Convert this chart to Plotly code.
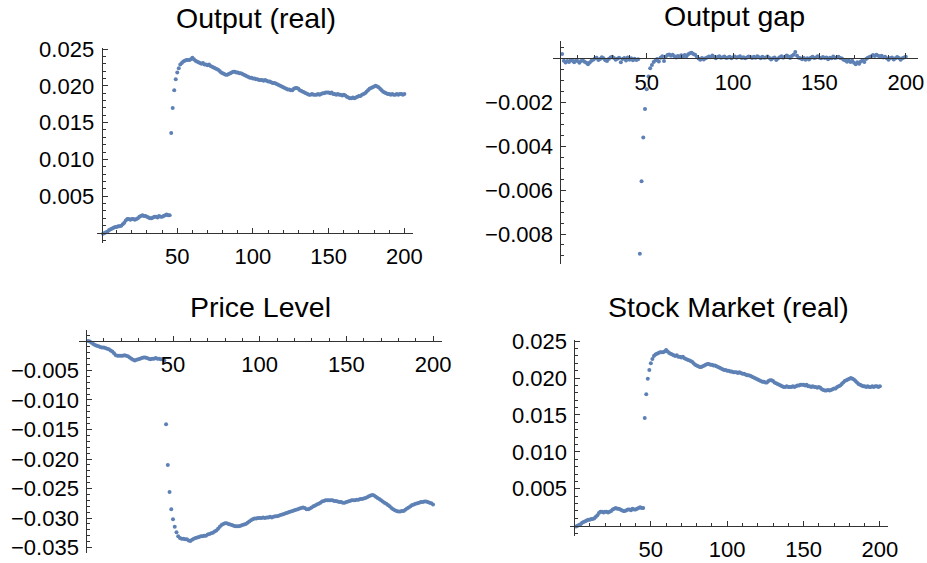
import plotly.graph_objects as go

W, H = 927, 563

time_index = list(range(1, 201))

output_real = [
    -0.0001, 0.0000, 0.0001, 0.0002, 0.0004, 0.0005, 0.0006, 0.0007, 0.0008, 0.0008,
    0.0009, 0.0009, 0.0010, 0.0012, 0.0014, 0.0017, 0.0019, 0.0019, 0.0018, 0.0019,
    0.0019, 0.0018, 0.0019, 0.0020, 0.0022, 0.0023, 0.0024, 0.0023, 0.0023, 0.0022,
    0.0021, 0.0020, 0.0020, 0.0021, 0.0022, 0.0022, 0.0021, 0.0023, 0.0022, 0.0022,
    0.0023, 0.0024, 0.0025, 0.0024, 0.0024, 0.0136, 0.0170, 0.0194, 0.0209, 0.0218,
    0.0224, 0.0229, 0.0231, 0.0233, 0.0234, 0.0235, 0.0235, 0.0235, 0.0236, 0.0238,
    0.0236, 0.0234, 0.0233, 0.0232, 0.0231, 0.0230, 0.0231, 0.0229, 0.0229, 0.0228,
    0.0229, 0.0227, 0.0226, 0.0225, 0.0224, 0.0223, 0.0222, 0.0220, 0.0218, 0.0217,
    0.0216, 0.0215, 0.0215, 0.0216, 0.0217, 0.0218, 0.0219, 0.0219, 0.0218, 0.0218,
    0.0217, 0.0217, 0.0216, 0.0215, 0.0214, 0.0213, 0.0212, 0.0211, 0.0211, 0.0210,
    0.0210, 0.0209, 0.0209, 0.0208, 0.0208, 0.0208, 0.0207, 0.0208, 0.0207, 0.0206,
    0.0206, 0.0205, 0.0204, 0.0204, 0.0203, 0.0202, 0.0201, 0.0200, 0.0199, 0.0198,
    0.0197, 0.0196, 0.0195, 0.0195, 0.0194, 0.0194, 0.0196, 0.0197, 0.0197, 0.0196,
    0.0194, 0.0193, 0.0192, 0.0191, 0.0190, 0.0189, 0.0188, 0.0188, 0.0189, 0.0188,
    0.0188, 0.0188, 0.0189, 0.0188, 0.0189, 0.0190, 0.0190, 0.0191, 0.0191, 0.0191,
    0.0190, 0.0191, 0.0189, 0.0189, 0.0188, 0.0189, 0.0188, 0.0188, 0.0187, 0.0188,
    0.0187, 0.0185, 0.0184, 0.0183, 0.0183, 0.0184, 0.0183, 0.0184, 0.0185, 0.0186,
    0.0186, 0.0188, 0.0189, 0.0190, 0.0192, 0.0194, 0.0196, 0.0197, 0.0198, 0.0199,
    0.0200, 0.0199, 0.0198, 0.0196, 0.0194, 0.0192, 0.0191, 0.0190, 0.0189, 0.0189,
    0.0188, 0.0189, 0.0188, 0.0188, 0.0189, 0.0188, 0.0189, 0.0189, 0.0188, 0.0189,
]

output_gap = [
    0.00020, -0.00010, -0.00018, -0.00012, -0.00016, -0.00008, -0.00010, -0.00017, -0.00009, -0.00012,
    -0.00019, -0.00011, -0.00008, -0.00015, -0.00020, -0.00026, -0.00018, -0.00010, -0.00006, 0.00000,
    0.00003, -0.00007, -0.00002, 0.00006, 0.00001, -0.00008, -0.00011, -0.00002, 0.00005, 0.00008,
    0.00002, -0.00006, -0.00001, 0.00003, -0.00017, -0.00002, 0.00002, -0.00009, 0.00004, -0.00006,
    0.00001, -0.00008, -0.00001, -0.00007, -0.00004, -0.00890, -0.00560, -0.00360, -0.00230, -0.00140,
    -0.00082, -0.00045, -0.00030, -0.00016, -0.00009, -0.00002, -0.00014, 0.00003, 0.00010, -0.00012,
    0.00008, 0.00016, 0.00018, 0.00012, 0.00017, 0.00010, 0.00004, 0.00011, 0.00009, 0.00015,
    0.00007, 0.00016, 0.00010, 0.00019, 0.00024, 0.00026, 0.00020, 0.00017, 0.00008, 0.00000,
    -0.00006, 0.00002, -0.00005, 0.00001, 0.00004, 0.00009, 0.00006, 0.00013, 0.00008, 0.00001,
    0.00007, 0.00010, 0.00003, 0.00006, 0.00009, 0.00002, 0.00004, 0.00008, 0.00001, 0.00006,
    0.00009, 0.00003, 0.00007, 0.00010, 0.00002, 0.00006, 0.00001, 0.00004, 0.00009, 0.00007,
    0.00002, 0.00008, 0.00003, 0.00010, 0.00006, 0.00001, 0.00008, 0.00003, 0.00005, 0.00009,
    0.00002, -0.00005, 0.00001, 0.00004, -0.00007, 0.00000, 0.00006, 0.00010, 0.00003, 0.00008,
    0.00014, 0.00009, 0.00002, 0.00011, 0.00017, 0.00030, 0.00012, 0.00003, 0.00001, -0.00004,
    0.00002, -0.00006, 0.00001, -0.00005, 0.00003, 0.00008, 0.00002, 0.00004, 0.00010, 0.00003,
    0.00001, 0.00007, 0.00002, 0.00005, -0.00004, 0.00003, 0.00001, 0.00009, 0.00002, 0.00004,
    0.00008, 0.00002, 0.00000, -0.00006, -0.00009, -0.00015, -0.00008, -0.00016, -0.00010, -0.00019,
    -0.00026, -0.00017, -0.00024, -0.00014, -0.00008, -0.00016, -0.00002, 0.00003, 0.00007, 0.00010,
    0.00016, 0.00011, 0.00017, 0.00012, 0.00009, 0.00012, 0.00004, 0.00008, 0.00001, -0.00006,
    0.00002, 0.00004, -0.00005, 0.00001, 0.00007, 0.00002, -0.00006, 0.00001, 0.00004, 0.00008,
]

price_level = [
    0.0000, -0.0001, -0.0003, -0.0005, -0.0007, -0.0008, -0.0009, -0.0010, -0.0011, -0.0011,
    -0.0012, -0.0013, -0.0014, -0.0016, -0.0018, -0.0021, -0.0024, -0.0025, -0.0025, -0.0025,
    -0.0025, -0.0024, -0.0025, -0.0026, -0.0028, -0.0030, -0.0032, -0.0033, -0.0032, -0.0031,
    -0.0030, -0.0029, -0.0028, -0.0028, -0.0029, -0.0030, -0.0031, -0.0030, -0.0030, -0.0029,
    -0.0030, -0.0030, -0.0031, -0.0031, -0.0033, -0.0141, -0.0210, -0.0256, -0.0285, -0.0302,
    -0.0315, -0.0324, -0.0331, -0.0334, -0.0335, -0.0335, -0.0336, -0.0336, -0.0338, -0.0339,
    -0.0337, -0.0335, -0.0334, -0.0333, -0.0332, -0.0331, -0.0331, -0.0330, -0.0330, -0.0328,
    -0.0327, -0.0326, -0.0325, -0.0323, -0.0321, -0.0318, -0.0315, -0.0312, -0.0310, -0.0309,
    -0.0309, -0.0310, -0.0311, -0.0312, -0.0313, -0.0314, -0.0314, -0.0314, -0.0313, -0.0312,
    -0.0311, -0.0310, -0.0308, -0.0306, -0.0304, -0.0302, -0.0301, -0.0301, -0.0300, -0.0300,
    -0.0300, -0.0299, -0.0300, -0.0299, -0.0299, -0.0298, -0.0299, -0.0298, -0.0297, -0.0297,
    -0.0296, -0.0295, -0.0294, -0.0293, -0.0292, -0.0291, -0.0290, -0.0289, -0.0288, -0.0287,
    -0.0286, -0.0285, -0.0284, -0.0283, -0.0282, -0.0283, -0.0285, -0.0285, -0.0284, -0.0282,
    -0.0280, -0.0279, -0.0277, -0.0276, -0.0274, -0.0272, -0.0271, -0.0270, -0.0270, -0.0270,
    -0.0270, -0.0270, -0.0271, -0.0271, -0.0272, -0.0273, -0.0273, -0.0274, -0.0274, -0.0273,
    -0.0272, -0.0271, -0.0270, -0.0270, -0.0270, -0.0269, -0.0269, -0.0268, -0.0268, -0.0267,
    -0.0266, -0.0265, -0.0263, -0.0262, -0.0261, -0.0262, -0.0264, -0.0266, -0.0268, -0.0270,
    -0.0272, -0.0274, -0.0276, -0.0278, -0.0280, -0.0283, -0.0285, -0.0287, -0.0288, -0.0289,
    -0.0289, -0.0288, -0.0288, -0.0286, -0.0284, -0.0282, -0.0280, -0.0278, -0.0277, -0.0276,
    -0.0275, -0.0274, -0.0273, -0.0273, -0.0272, -0.0272, -0.0273, -0.0274, -0.0275, -0.0277,
]

stock_market_real = [
    -0.0001, 0.0000, 0.0001, 0.0002, 0.0004, 0.0005, 0.0006, 0.0007, 0.0008, 0.0008,
    0.0009, 0.0009, 0.0010, 0.0012, 0.0014, 0.0017, 0.0019, 0.0019, 0.0018, 0.0019,
    0.0019, 0.0018, 0.0019, 0.0020, 0.0022, 0.0023, 0.0024, 0.0023, 0.0023, 0.0022,
    0.0021, 0.0020, 0.0020, 0.0021, 0.0022, 0.0022, 0.0021, 0.0023, 0.0022, 0.0022,
    0.0023, 0.0024, 0.0025, 0.0024, 0.0024, 0.0146, 0.0178, 0.0199, 0.0211, 0.0220,
    0.0226, 0.0230, 0.0232, 0.0233, 0.0234, 0.0235, 0.0235, 0.0235, 0.0236, 0.0238,
    0.0236, 0.0234, 0.0233, 0.0232, 0.0231, 0.0230, 0.0231, 0.0229, 0.0229, 0.0228,
    0.0229, 0.0227, 0.0226, 0.0225, 0.0224, 0.0223, 0.0222, 0.0220, 0.0218, 0.0217,
    0.0216, 0.0215, 0.0215, 0.0216, 0.0217, 0.0218, 0.0219, 0.0219, 0.0218, 0.0218,
    0.0217, 0.0217, 0.0216, 0.0215, 0.0214, 0.0213, 0.0212, 0.0211, 0.0211, 0.0210,
    0.0210, 0.0209, 0.0209, 0.0208, 0.0208, 0.0208, 0.0207, 0.0208, 0.0207, 0.0206,
    0.0206, 0.0205, 0.0204, 0.0204, 0.0203, 0.0202, 0.0201, 0.0200, 0.0199, 0.0198,
    0.0197, 0.0196, 0.0195, 0.0195, 0.0194, 0.0194, 0.0196, 0.0197, 0.0197, 0.0196,
    0.0194, 0.0193, 0.0192, 0.0191, 0.0190, 0.0189, 0.0188, 0.0188, 0.0189, 0.0188,
    0.0188, 0.0188, 0.0189, 0.0188, 0.0189, 0.0190, 0.0190, 0.0191, 0.0191, 0.0191,
    0.0190, 0.0191, 0.0189, 0.0189, 0.0188, 0.0189, 0.0188, 0.0188, 0.0187, 0.0188,
    0.0187, 0.0185, 0.0184, 0.0183, 0.0183, 0.0184, 0.0183, 0.0184, 0.0185, 0.0186,
    0.0186, 0.0188, 0.0189, 0.0190, 0.0192, 0.0194, 0.0196, 0.0197, 0.0198, 0.0199,
    0.0200, 0.0199, 0.0198, 0.0196, 0.0194, 0.0192, 0.0191, 0.0190, 0.0189, 0.0189,
    0.0188, 0.0189, 0.0188, 0.0188, 0.0189, 0.0188, 0.0189, 0.0189, 0.0188, 0.0189,
]

titles = ["Output (real)", "Output gap", "Price Level", "Stock Market (real)"]

x_tick_vals = [50, 100, 150, 200]
x_tick_text = ["50", "100", "150", "200"]
x_minor_vals = [10, 20, 30, 40, 60, 70, 80, 90, 110, 120, 130, 140, 160, 170, 180, 190]

pos_tick_vals = [0.005, 0.010, 0.015, 0.020, 0.025]
pos_tick_text = ["0.005", "0.010", "0.015", "0.020", "0.025"]
pos_minor_vals = [0.001, 0.002, 0.003, 0.004, 0.006, 0.007, 0.008, 0.009, 0.011, 0.012,
                  0.013, 0.014, 0.016, 0.017, 0.018, 0.019, 0.021, 0.022, 0.023, 0.024, -0.001]

gap_tick_vals = [-0.002, -0.004, -0.006, -0.008]
gap_tick_text = ["\u22120.002", "\u22120.004", "\u22120.006", "\u22120.008"]
gap_minor_vals = [0.0005, -0.0005, -0.001, -0.0015, -0.0025, -0.003, -0.0035, -0.0045, -0.005,
                  -0.0055, -0.0065, -0.007, -0.0075, -0.0085, -0.009]

price_tick_vals = [-0.005, -0.010, -0.015, -0.020, -0.025, -0.030, -0.035]
price_tick_text = ["\u22120.005", "\u22120.010", "\u22120.015", "\u22120.020",
                   "\u22120.025", "\u22120.030", "\u22120.035"]
price_minor_vals = [0.001, -0.001, -0.002, -0.003, -0.004, -0.006, -0.007, -0.008, -0.009,
                    -0.011, -0.012, -0.013, -0.014, -0.016, -0.017, -0.018, -0.019,
                    -0.021, -0.022, -0.023, -0.024, -0.026, -0.027, -0.028, -0.029,
                    -0.031, -0.032, -0.033, -0.034]

# panel layout in pixels: (x_left, x_right, x_range, y_top, y_bottom, y_range)
panels = [
    (96.7, 412.7, [-3.2, 205.5], 47.7, 243.3, [-0.0014, 0.02518]),
    (553.3, 917.9, [-4.1, 207.0], 40.7, 264.3, [-0.00938, 0.00081]),
    (79.4, 441.7, [-4.0, 205.0], 330.0, 553.0, [-0.03593, 0.00186]),
    (569.6, 888.3, [-3.2, 205.5], 340.0, 536.0, [-0.0014, 0.02516]),
]
title_pos = [(256, 18), (734, 16), (260, 307), (728, 307)]
series = [output_real, output_gap, price_level, stock_market_real]
yticks = [
    (pos_tick_vals, pos_tick_text, pos_minor_vals),
    (gap_tick_vals, gap_tick_text, gap_minor_vals),
    (price_tick_vals, price_tick_text, price_minor_vals),
    (pos_tick_vals, pos_tick_text, pos_minor_vals),
]

POINT = "#5E81B5"
AXIS = "#333333"
FONT = "Liberation Sans, Arial, sans-serif"

fig = go.Figure()
layout = dict(
    template="none",
    width=W, height=H, margin=dict(l=0, r=0, t=0, b=0, pad=0, autoexpand=False),
    paper_bgcolor="white", plot_bgcolor="white", showlegend=False,
    font=dict(family=FONT, color="black"),
)
annotations = []
for k, (xl, xr, xrange_, yt, yb, yrange_) in enumerate(panels):
    n = "" if k == 0 else str(k + 1)
    dx = [xl / W, xr / W]
    dy = [1 - yb / H, 1 - yt / H]
    xpos = dy[0] + (0 - yrange_[0]) / (yrange_[1] - yrange_[0]) * (dy[1] - dy[0])
    ypos = dx[0] + (0 - xrange_[0]) / (xrange_[1] - xrange_[0]) * (dx[1] - dx[0])
    tv, tt, mv = yticks[k]
    layout["xaxis" + n] = dict(
        domain=dx, range=xrange_, anchor="free", position=xpos, automargin=False,
        showline=True, linecolor=AXIS, linewidth=1, showgrid=False, zeroline=False,
        ticks="inside", ticklen=5, tickwidth=1, tickcolor=AXIS,
        tickmode="array", tickvals=x_tick_vals, ticktext=x_tick_text,
        tickfont=dict(size=22, family=FONT, color="black"), ticklabelstandoff=4,
        minor=dict(tickmode="array", tickvals=x_minor_vals, ticks="inside", ticklen=3,
                   tickwidth=1, tickcolor=AXIS, showgrid=False),
    )
    layout["yaxis" + n] = dict(
        domain=dy, range=yrange_, anchor="free", position=ypos, automargin=False,
        showline=True, linecolor=AXIS, linewidth=1, showgrid=False, zeroline=False,
        ticks="inside", ticklen=5, tickwidth=1, tickcolor=AXIS,
        tickmode="array", tickvals=tv, ticktext=tt,
        tickfont=dict(size=22, family=FONT, color="black"), ticklabelstandoff=3,
        minor=dict(tickmode="array", tickvals=mv, ticks="inside", ticklen=3,
                   tickwidth=1, tickcolor=AXIS, showgrid=False),
    )
    fig.add_trace(go.Scatter(
        x=time_index, y=series[k], mode="markers",
        marker=dict(size=4, color=POINT, line=dict(width=0)),
        xaxis="x" + n, yaxis="y" + n, name=titles[k],
    ))
    tx, ty = title_pos[k]
    annotations.append(dict(
        text=titles[k], x=tx / W, y=1 - ty / H, xref="paper", yref="paper",
        xanchor="center", yanchor="middle", showarrow=False,
        font=dict(size=28.5, family=FONT, color="black"),
    ))
layout["annotations"] = annotations
fig.update_layout(**layout)
fig.write_html(
    "out.html",
    config={"displayModeBar": False},
    post_script="document.body.style.margin='0';document.body.style.overflow='hidden';",
)
